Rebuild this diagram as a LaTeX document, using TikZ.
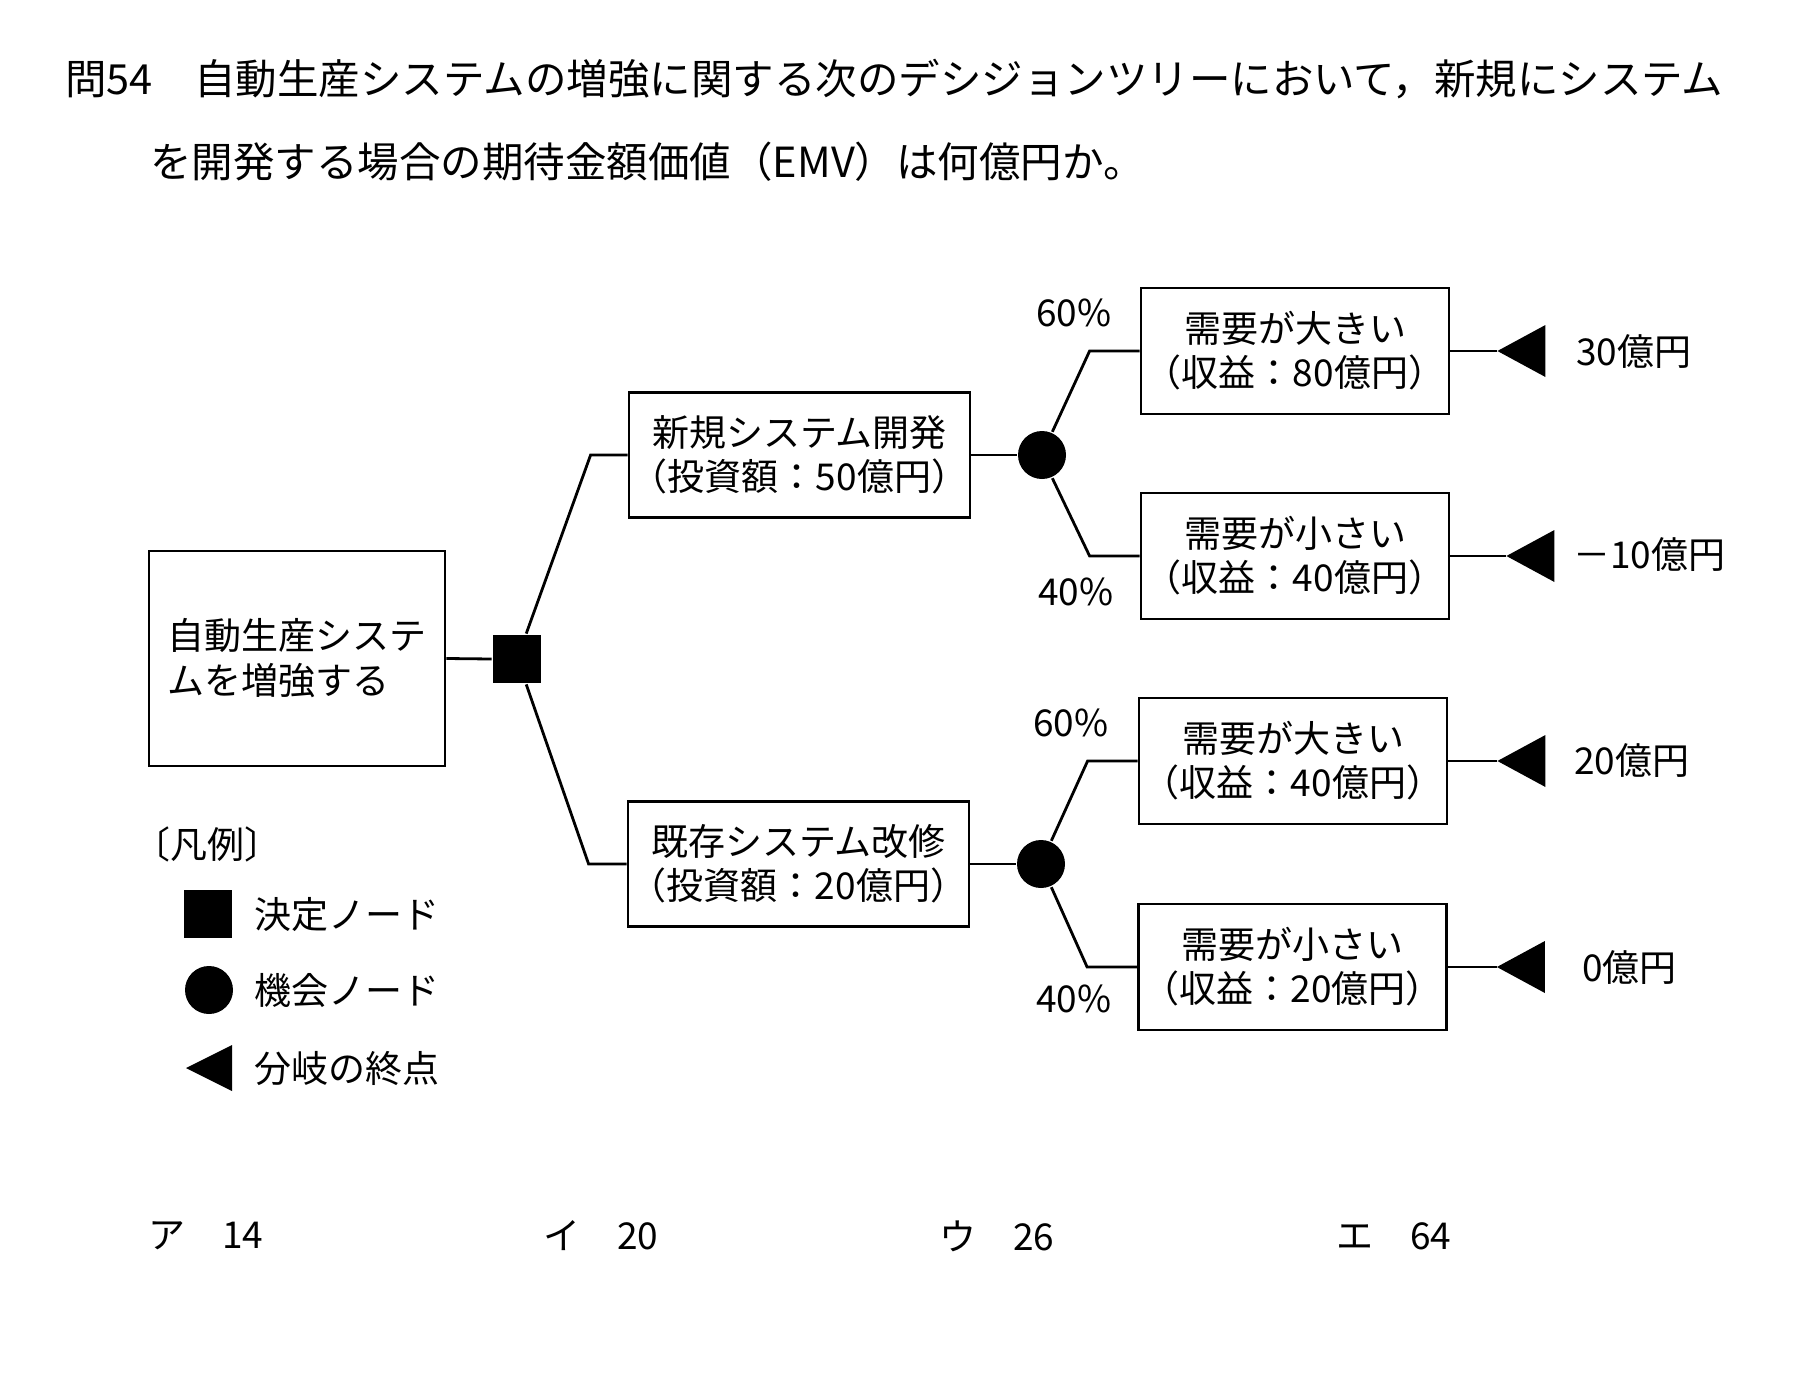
\documentclass[tikz,border=0pt]{standalone}
\usepackage{fontspec}
\setmainfont{Noto Sans CJK JP}
\newfontfamily\halfwd[CharacterWidth=AlternateHalf]{Noto Sans CJK JP}
\usetikzlibrary{positioning,calc}
\tikzstyle{optbox}=[draw,minimum width=341pt,minimum height=125pt,align=center,inner sep=0pt,font=\halfwd\fontsize{37}{44}\selectfont]
\tikzstyle{outcome}=[draw,minimum width=308pt,minimum height=126pt,align=center,inner sep=0pt,font=\halfwd\fontsize{37}{44}\selectfont]
\tikzstyle{decide}=[fill,minimum size=48pt,inner sep=0pt]
\tikzstyle{chance}=[fill,circle,minimum size=48pt,inner sep=0pt]
\tikzstyle{lbl}=[anchor=west,inner sep=0pt,font=\halfwd\fontsize{37}{44}\selectfont]
\tikzstyle{prob}=[inner sep=0pt,font=\fontsize{37}{44}\selectfont]
\tikzstyle{quest}=[anchor=west,inner sep=0pt,font=\fontsize{41.5}{50}\selectfont]
\newcommand\fwcolon{{\normalfont ：}}

\begin{document}
\begin{tikzpicture}[x=1pt,y=-1pt,line width=2.8pt]
    \useasboundingbox (0,0) rectangle (1820,1378);
    % question
    \node [quest] (q1) at (64,79) {問54　自動生産システムの増強に関する次のデシジョンツリーにおいて，新規にシステム};
    \node [quest] (q2) at (149,162) {を開発する場合の期待金額価値（EMV）は何億円か。};

    % tree
    \node [draw,minimum width=296pt,minimum height=215pt,align=left,inner sep=0pt,
      font=\fontsize{37}{45}\selectfont] (root) at (297,658.5) {自動生産システ\\ムを増強する};
    \node [decide] (dec) at (517,659) {};
    \node [optbox] (newdev) at (799.5,455) {新規システム開発\\（投資額\fwcolon 50億円）};
    \node [optbox] (existmod) at (798.5,864) {既存システム改修\\（投資額\fwcolon 20億円）};
    \node [chance] (c1) at (1042,455) {};
    \node [chance] (c2) at (1041,864) {};
    \node [outcome] (big1) at (1295,351) {需要が大きい\\（収益\fwcolon 80億円）};
    \node [outcome] (small1) at (1295,556) {需要が小さい\\（収益\fwcolon 40億円）};
    \node [outcome] (big2) at (1293,761) {需要が大きい\\（収益\fwcolon 40億円）};
    \node [outcome] (small2) at (1292.5,967) {需要が小さい\\（収益\fwcolon 20億円）};

    \draw (root.east) -- (dec.west);
    \draw (dec.70) -- ([xshift=-37pt]newdev.west) -- (newdev.west);
    \draw (dec.-70) -- ([xshift=-38pt]existmod.west) -- (existmod.west);
    \draw (newdev.east) -- (c1.west);
    \draw (existmod.east) -- (c2.west);
    \draw (c1.66) -- ([xshift=-50pt]big1.west) -- (big1.west);
    \draw (c1.-66) -- ([xshift=-50pt]small1.west) -- (small1.west);
    \draw (c2.66) -- ([xshift=-50pt]big2.west) -- (big2.west);
    \draw (c2.-66) -- ([xshift=-50pt]small2.west) -- (small2.west);

    \node [prob] (p1) at (1074,313) {60\%};
    \node [prob] (p2) at (1076,592) {40\%};
    \node [prob] (p3) at (1071,723) {60\%};
    \node [prob] (p4) at (1074,999) {40\%};

    % end points
    \coordinate (t1) at ([xshift=47pt]big1.east);
    \coordinate (t2) at ([xshift=56pt]small1.east);
    \coordinate (t3) at ([xshift=49pt]big2.east);
    \coordinate (t4) at ([xshift=49pt]small2.east);
    \draw (big1.east) -- (t1);
    \draw (small1.east) -- (t2);
    \draw (big2.east) -- (t3);
    \draw (small2.east) -- (t4);
    \fill (t1) -- ++(48,-26) -- ++(0,52) -- cycle;
    \fill (t2) -- ++(48,-26) -- ++(0,52) -- cycle;
    \fill (t3) -- ++(48,-26) -- ++(0,52) -- cycle;
    \fill (t4) -- ++(48,-26) -- ++(0,52) -- cycle;
    \node [lbl] (v1) at (1575,352) {30億円};
    \node [lbl] (v2) at (1572,555) {－10億円};
    \node [lbl] (v3) at (1573,761) {20億円};
    \node [lbl] (v4) at (1581,968) {0億円};

    % legend
    \node [lbl] (leg) at (151,844) {〔凡例〕};
    \node [decide] (ld) at (207.5,913.5) {};
    \node [lbl] at (253,915) {決定ノード};
    \node [chance] (lc) at (209,990) {};
    \node [lbl] at (253,990) {機会ノード};
    \coordinate (lt) at (186,1068);
    \fill (lt) -- ++(46,-23) -- ++(0,46) -- cycle;
    \node [lbl] at (253,1069) {分岐の終点};

    % choices
    \node [lbl] (ansa) at (147,1236) {ア　14};
    \node [lbl] (ansi) at (542,1236) {イ　20};
    \node [lbl] (ansu) at (938,1236) {ウ　26};
    \node [lbl] (anse) at (1335,1236) {エ　64};
\end{tikzpicture}
\end{document}
